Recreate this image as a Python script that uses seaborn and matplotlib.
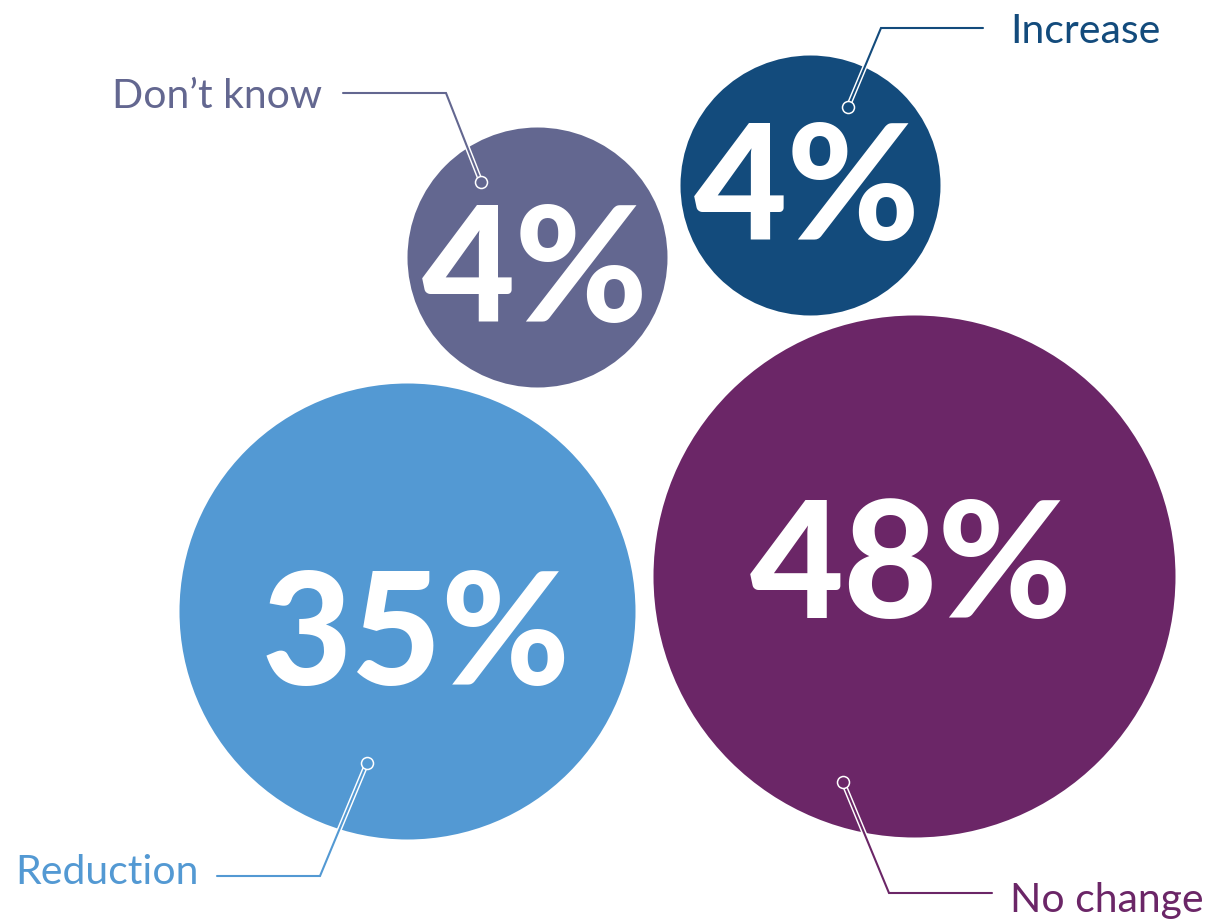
import matplotlib
matplotlib.use("Agg")
import matplotlib.pyplot as plt
import matplotlib.patheffects as pe
import seaborn as sns
import pandas as pd

# ---- data ----
categories = ["Don\u2019t know", "Increase", "Reduction", "No change"]
values = [4, 4, 35, 48]
value_labels = ["4%", "4%", "35%", "48%"]
colors = ["#636790", "#134B7C", "#5399D3", "#6B2667"]

# ---- layout (pixel coordinates, y downwards) ----
W, H, DPI = 1207, 920, 100
centers_x = [537, 810, 407, 914]
centers_y = [258, 186, 612, 577]
radii = [130, 130, 228, 261]
pct_baseline = [322, 240, 685, 618]
pct_x = [535, 807, 416, 911]
pct_size = [116, 116, 112, 117]

# label anchor (x, baseline y, ha)
label_pos = [(322, 108, "right"), (1010, 43, "left"), (199, 884, "right"), (1010, 912, "left")]
# leader polylines: start, elbow, dot
leaders = [
    [(343, 94), (446, 94), (481, 183)],
    [(983, 29), (881, 29), (848, 108)],
    [(217, 877), (320, 877), (367, 764)],
    [(992, 894), (889, 894), (843, 783)],
]

sns.set_theme(style="white")
plt.rcParams["font.family"] = ["Lato", "DejaVu Sans"]

fig = plt.figure(figsize=(W / DPI, H / DPI), dpi=DPI)
ax = fig.add_axes([0, 0, 1, 1])
ax.set_xlim(0, W)
ax.set_ylim(H, 0)
ax.set_axis_off()

df = pd.DataFrame({"cat": categories, "val": values, "x": centers_x, "y": centers_y,
                   "r": radii})
# marker size in points^2 for a given pixel radius
df["s"] = (2 * df["r"] * 72 / DPI) ** 2
for i, row in df.iterrows():
    sns.scatterplot(x=[row["x"]], y=[row["y"]], s=row["s"], color=colors[i],
                    linewidth=0, ax=ax, legend=False, zorder=1)

for i in range(len(categories)):
    ax.text(pct_x[i], pct_baseline[i], value_labels[i], color="white",
            fontsize=pct_size[i], fontweight="black", ha="center", va="baseline", zorder=3)
    lx, ly, ha = label_pos[i]
    ax.text(lx, ly, categories[i], color=colors[i], fontsize=29.5, ha=ha, va="baseline",
            zorder=3)
    pts = leaders[i]
    xs = [p[0] for p in pts]
    ys = [p[1] for p in pts]
    ax.plot(xs, ys, color=colors[i], lw=1.5, solid_joinstyle="miter", zorder=4,
            path_effects=[pe.Stroke(linewidth=3.6, foreground="white"), pe.Normal()])
    ax.scatter([xs[-1]], [ys[-1]], s=(12 * 72 / DPI) ** 2, facecolor=colors[i],
               edgecolor="white", linewidth=1.1, zorder=5)

fig.savefig("out.png", dpi=DPI)
